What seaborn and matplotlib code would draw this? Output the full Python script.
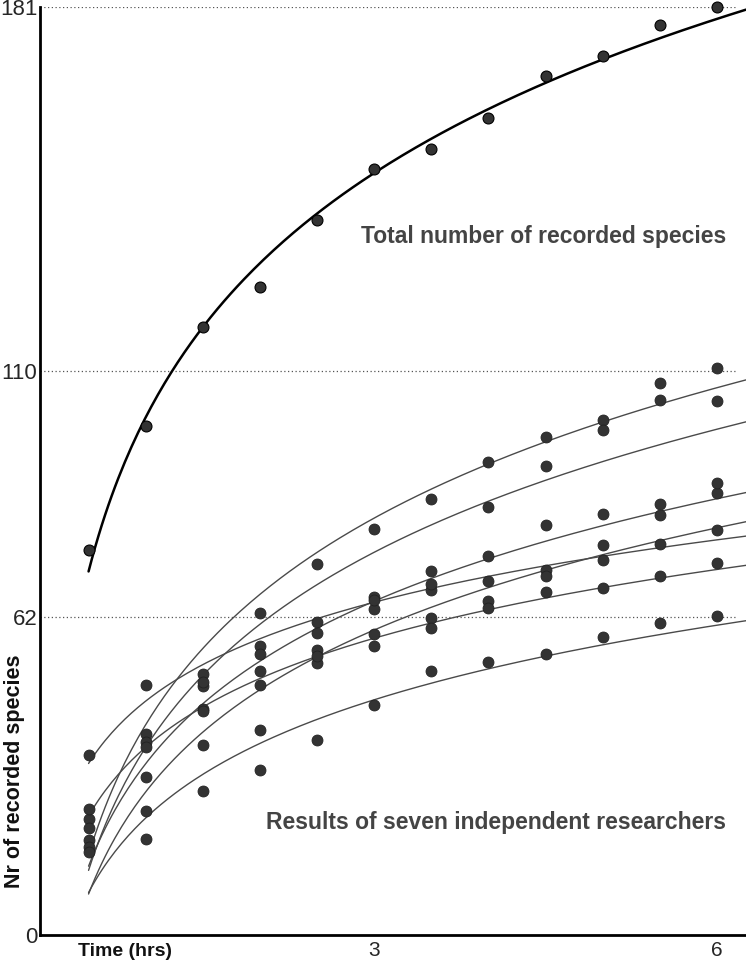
import numpy as np
import pandas as pd
import matplotlib
matplotlib.use('Agg')
import matplotlib.pyplot as plt
import seaborn as sns

# time steps (hrs)
hours = [0.5, 1.0, 1.5, 2.0, 2.5, 3.0, 3.5, 4.0, 4.5, 5.0, 5.5, 6.0]

# total number of recorded species
total = [75.0, 99.2, 118.5, 126.3, 139.4, 149.4, 153.3, 159.3, 167.5, 171.4, 177.5, 181.0]

# seven independent researchers
res_1 = [22.7, 39.2, 51.0, 62.9, 72.3, 79.1, 85.1, 92.2, 97.2, 100.5, 107.6, 110.5]
res_2 = [20.9, 37.7, 48.6, 56.4, 61.1, 65.9, 71.0, 83.4, 91.4, 98.5, 104.3, 104.2]
res_3 = [18.5, 30.8, 44.1, 51.5, 55.6, 63.5, 67.2, 73.9, 80.0, 82.1, 84.1, 86.3]
res_4 = [35.1, 48.8, 49.3, 54.8, 59.0, 65.4, 68.5, 69.0, 71.1, 76.1, 76.3, 78.9]
res_5 = [17.2, 24.1, 37.0, 40.0, 53.0, 58.7, 61.9, 65.1, 70.1, 73.1, 82.0, 88.2]
res_6 = [24.6, 36.7, 43.6, 48.8, 54.5, 56.3, 59.8, 63.8, 66.9, 67.7, 70.0, 72.6]
res_7 = [16.1, 18.8, 28.0, 32.1, 38.0, 44.9, 51.5, 53.2, 54.9, 58.1, 60.9, 62.3]
researchers = [res_1, res_2, res_3, res_4, res_5, res_6, res_7]

y_ticks = [0, 62, 110, 181]
x_ticks = [1, 2, 3, 4, 5, 6]
x_ticklabels = ['', '', '3', '', '', '6']

sns.set_style('white')
plt.rcParams['font.family'] = ['Liberation Sans', 'DejaVu Sans']

fig = plt.figure(figsize=(7.46, 9.65), dpi=100)
ax = fig.add_axes([40 / 746, 30 / 965, 706 / 746, 928 / 965])

x_lo, x_hi = 0.075, 6.254
xs = np.linspace(0.5, x_hi, 200)


def log_fit(y):
    # logarithmic trend line  y = a + b*ln(x)
    b, a = np.polyfit(np.log(hours), y, 1)
    return a + b * np.log(xs)


# researchers
for r in researchers:
    sns.lineplot(x=xs, y=log_fit(r), ax=ax, color='#4a4a4a', lw=1.0)
for r in researchers:
    sns.scatterplot(x=hours, y=r, ax=ax, s=62, color='#333333',
                    edgecolor='#222222', linewidth=0.6, zorder=3, clip_on=False)

# total
sns.lineplot(x=xs, y=log_fit(total), ax=ax, color='black', lw=1.8)
sns.scatterplot(x=hours, y=total, ax=ax, s=62, color='#333333',
                edgecolor='black', linewidth=0.8, zorder=3, clip_on=False)

for yv in y_ticks[1:]:
    ax.axhline(yv, xmax=0.985, color='#555555', ls=(0, (1, 2)), lw=0.9, zorder=1)

ax.set_xlim(x_lo, x_hi)
ax.set_ylim(0, 181)
ax.set_xticks(x_ticks)
ax.set_xticklabels(x_ticklabels, fontsize=15)
ax.set_yticks(y_ticks)
ax.set_yticklabels([str(v) for v in y_ticks], fontsize=16)
ax.tick_params(axis='x', direction='in', length=5, width=1, color='#333333', pad=4)
ax.tick_params(axis='y', length=0, pad=2)

for side in ['top', 'right']:
    ax.spines[side].set_visible(False)
for side in ['left', 'bottom']:
    ax.spines[side].set_color('black')
    ax.spines[side].set_linewidth(2)

fig.text(125 / 746, 1 - 952 / 965, 'Time (hrs)', fontsize=14, fontweight='bold',
         ha='center', va='center', color='#111111')
fig.text(15 / 746, 1 - 771 / 965, 'Nr of recorded species', rotation=90,
         fontsize=15.5, fontweight='bold', ha='center', va='center', color='#111111')
fig.text(544 / 746, 1 - 236 / 965, 'Total number of recorded species',
         fontsize=16.5, fontweight='bold', color='#444444', ha='center', va='center')
fig.text(496 / 746, 1 - 822 / 965, 'Results of seven independent researchers',
         fontsize=16.5, fontweight='bold', color='#444444', ha='center', va='center')

fig.savefig('out.png', dpi=100)
